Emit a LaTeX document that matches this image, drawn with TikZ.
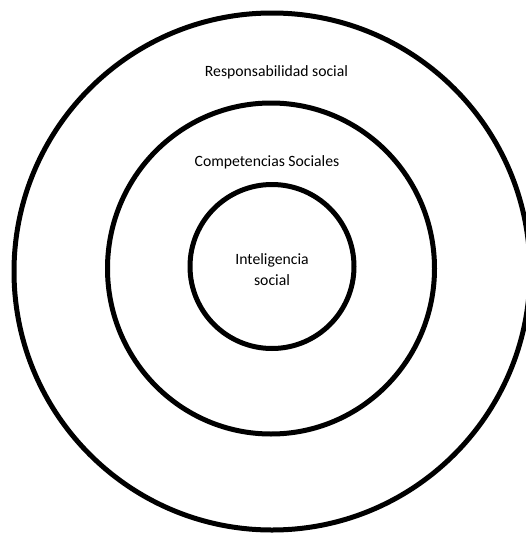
\documentclass[tikz,border=0pt]{standalone}
\usepackage{fontspec}
\setmainfont{Carlito}

\begin{document}
\begin{tikzpicture}[x=1pt, y=-1pt]

        \useasboundingbox (0,0) rectangle (526,533);
        \clip (0,0) rectangle (526,533);

        \begin{scope}[line width=5pt, every node/.style={font=\fontsize{15.7}{21}\selectfont, anchor=base, align=center}]

            % rings
            \draw (272,271.5) ellipse (258 and 258.5);
            \draw (271,268.5) ellipse (163.5 and 165.5);
            \draw (272,266.5) ellipse (82 and 82);

            % labels
            \node (resp) at (276.5,76) {Responsabilidad social};
            \node (comp) at (267,166) {Competencias Sociales};
            \node (intel) at (272,285) {Inteligencia\\social};

        \end{scope}

\end{tikzpicture}
\end{document}
